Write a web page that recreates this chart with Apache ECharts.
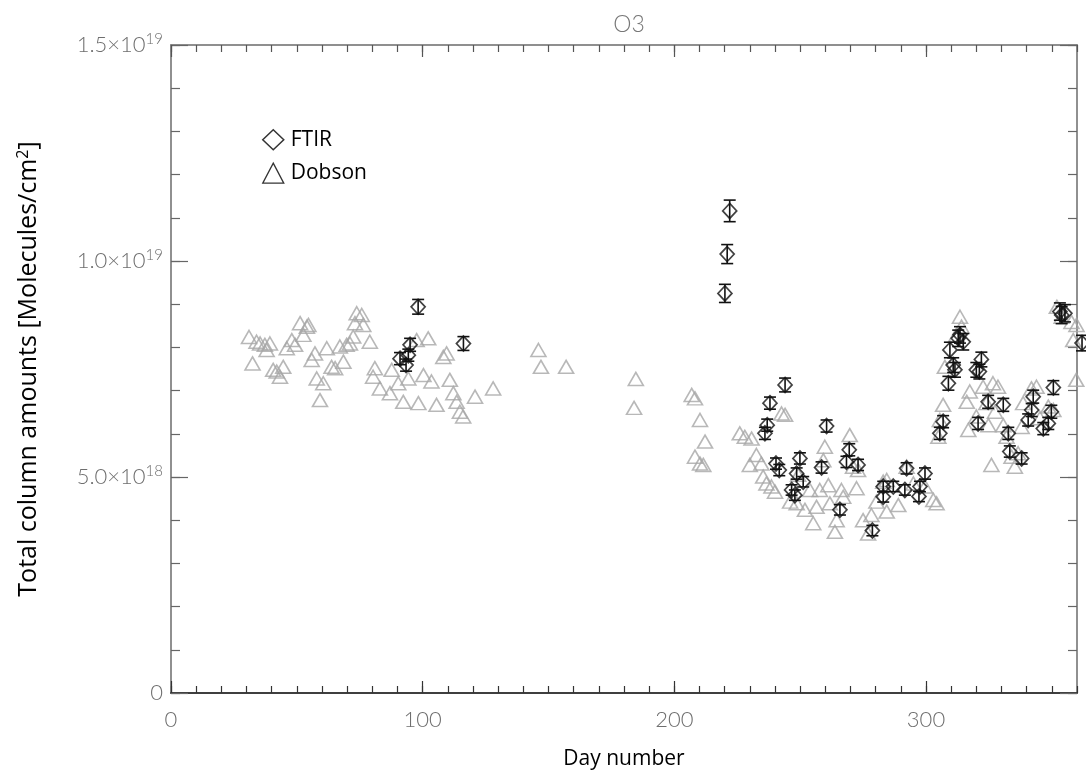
<!DOCTYPE html>
<html>
<head>
<meta charset="utf-8">
<script src="https://cdn.jsdelivr.net/npm/echarts@6/dist/echarts.min.js"></script>
<style>
  html, body { margin: 0; padding: 0; background: #fff; }
  #chart { width: 1086px; height: 778px; }
</style>
</head>
<body>
<div id="chart"></div>
<script>
// Ozone total column, values in units of 1e18 molecules/cm2
const dobsonDays = [31, 32.4, 34, 35.4, 37.3, 39.3, 38, 40.6, 42, 43.3, 44.6, 46, 48, 49.3, 51.3, 54, 52.6, 54.6,
  55.9, 57.2, 57.9, 59.2, 60.5, 61.9, 63.8, 65.2, 67.1, 68.5, 69.8, 71.1, 73.8, 73.1, 72.4,
  75.8, 76.4, 79, 81, 80.3, 83, 87.7, 87, 90.3, 92.3, 94.3, 98.3, 97.6, 102.2, 100.3, 103.5, 105.5,
  108.2, 109.5, 110.8, 112.2, 113.5, 114.8, 116.1, 120.8, 128, 146, 147, 157, 184.7, 184,
  206.9, 208.2, 210.2, 212.2, 208.2, 210.2, 211.5, 226, 228, 230.7, 230, 232.6, 234.6, 235.3, 236.6,
  238.6, 240, 242.6, 244, 246, 248.6, 249.2, 251.9, 253.9, 255.2, 256.5, 257.8, 259.2, 259.8, 261.2,
  261.8, 263.8, 264.5, 266.4, 267.1, 269.7, 271, 272.4, 273, 275, 277, 278.3, 280.3, 283,
  284.4, 292.3, 295, 289, 284.4, 302.9, 304.2, 299.6,
  313.5, 314.1, 312.1, 307.5, 306.8, 305.5, 304.9, 316.8, 316.2, 317.4, 320, 322.7, 326.6, 328.6,
  324, 327.4, 324.8, 330.7, 326, 332, 334, 335.3, 336.6, 338.6, 341.9, 343.9, 338, 345.3, 348.6,
  350.6, 352, 353.9, 357.8, 359.8, 358.5, 359.7];
const dobsonValues = [8.24, 7.63, 8.13, 8.09, 8.06, 8.09, 7.94, 7.48, 7.44, 7.32, 7.55, 7.98, 8.17, 8.06, 8.56, 8.48, 8.29, 8.52,
  7.71, 7.86, 7.28, 6.78, 7.17, 7.98, 7.55, 7.52, 8.02, 7.67, 8.06, 8.09, 8.79, 8.56, 8.25,
  8.75, 8.52, 8.13, 7.52, 7.32, 7.05, 7.48, 6.94, 7.17, 6.74, 7.28, 6.71, 8.17, 8.21, 7.36, 7.21, 6.67,
  7.78, 7.86, 7.25, 6.94, 6.74, 6.51, 6.40, 6.86, 7.05, 7.94, 7.55, 7.55, 7.27, 6.60,
  6.90, 6.82, 6.32, 5.82, 5.47, 5.31, 5.28, 6.01, 5.93, 5.89, 5.28, 5.51, 5.31, 5.01, 4.85,
  4.78, 4.66, 6.47, 6.44, 4.43, 4.39, 5.05, 4.24, 4.70, 3.93, 4.31, 4.70, 5.39, 5.70, 4.81,
  4.39, 3.73, 4.00, 4.70, 4.54, 5.97, 5.24, 4.74, 5.16, 4.00, 3.69, 4.12, 4.43, 4.89,
  4.93, 5.24, 4.85, 4.35, 4.20, 4.47, 4.39, 4.78,
  8.71, 8.48, 8.29, 7.55, 6.67, 6.32, 5.93, 6.09, 6.74, 6.98, 6.40, 7.09, 7.17, 7.09,
  6.71, 6.51, 6.20, 6.20, 5.28, 5.93, 5.47, 5.24, 5.55, 6.71, 7.05, 7.09, 6.16, 6.36, 6.63,
  6.55, 8.94, 8.71, 8.59, 8.52, 8.17, 7.25];

const ftirDays = [98.2, 116.2, 95, 94.3, 91, 93.4, 222, 221, 220.1, 244, 238, 236.9, 236, 240.4, 241.7,
  249.9, 248.6, 251.2, 246.6, 247.9, 260.5, 258.5, 269.5, 268.4, 273, 265.8, 278.7, 283, 283, 287,
  292.3, 291.6, 299.6, 297.6, 297.2, 305.5, 306.8, 308.9, 311.5, 310.8, 309.5, 312.8, 314.8, 313.5,
  320, 321.2, 322, 320.7, 324.7, 330.7, 332.7, 333.3, 338, 340.6, 342, 342.6, 346.6, 348.6, 349.8,
  350.6, 353.2, 353.9, 355.2, 362];
const ftirValues = [8.94, 8.09, 8.06, 7.82, 7.74, 7.59, 11.16, 10.16, 9.25, 7.13, 6.71, 6.20, 6.01, 5.31, 5.16,
  5.43, 5.08, 4.89, 4.70, 4.58, 6.18, 5.22, 5.63, 5.35, 5.28, 4.24, 3.76, 4.78, 4.54, 4.78,
  5.20, 4.70, 5.08, 4.78, 4.55, 6.01, 6.28, 7.17, 7.48, 7.59, 7.94, 8.21, 8.13, 8.29,
  7.48, 7.44, 7.72, 6.24, 6.74, 6.67, 6.01, 5.59, 5.43, 6.32, 6.55, 6.86, 6.12, 6.24, 6.51,
  7.07, 8.83, 8.75, 8.79, 8.10];
const ftirErrors = [0.17, 0.16, 0.15, 0.14, 0.14, 0.14, 0.25, 0.22, 0.21, 0.16, 0.14, 0.14, 0.14, 0.13, 0.13,
  0.13, 0.13, 0.12, 0.12, 0.12, 0.14, 0.13, 0.14, 0.13, 0.13, 0.12, 0.12, 0.12, 0.12, 0.12,
  0.13, 0.12, 0.13, 0.12, 0.12, 0.14, 0.14, 0.16, 0.17, 0.17, 0.18, 0.19, 0.19, 0.19,
  0.17, 0.17, 0.17, 0.14, 0.15, 0.15, 0.14, 0.13, 0.13, 0.14, 0.15, 0.15, 0.14, 0.14, 0.15,
  0.16, 0.20, 0.20, 0.20, 0.18];

const xMajorTicks = [0, 100, 200, 300];
const xTickLabels = ['0', '100', '200', '300'];
const yMajorTicks = [0, 5, 10, 15];
const yTickLabels = ['0', '5.0×10{sup|18}', '1.0×10{sup|19}', '1.5×10{sup|19}'];

const xMinorTicks = [];
for (let v = 0; v <= 360; v += 10) xMinorTicks.push(v);
const yMinorTicks = [];
for (let v = 0; v <= 15; v += 1) yMinorTicks.push(v);

const tickFont = 'Lato, "DejaVu Sans", sans-serif';
const textFont = '"Open Sans", "Noto Sans", sans-serif';
const axisGrey = '#6e6e6e';

function xAxisDef(pos, major) {
  return {
    type: 'value', min: 0, max: 360, position: pos,
    axisLine: { show: true, onZero: false, lineStyle: { color: pos === 'bottom' ? '#333' : '#888', width: 1.5 } },
    axisTick: { show: true, inside: true, length: major ? 12 : 7, customValues: major ? xMajorTicks : xMinorTicks,
      lineStyle: { color: pos === 'bottom' ? '#333' : '#555', width: 1.2 } },
    axisLabel: major && pos === 'bottom' ? {
      show: true, customValues: xMajorTicks, margin: 16, color: axisGrey, fontSize: 22, fontFamily: tickFont, fontWeight: 300,
      formatter: v => xTickLabels[xMajorTicks.indexOf(v)]
    } : { show: false },
    splitLine: { show: false },
    name: major && pos === 'bottom' ? 'Day number' : '',
    nameLocation: 'middle', nameGap: 56,
    nameTextStyle: { color: '#000', fontSize: 21, fontFamily: textFont }
  };
}

function yAxisDef(pos, major) {
  return {
    type: 'value', min: 0, max: 15, position: pos,
    axisLine: { show: true, onZero: false, lineStyle: { color: '#888', width: 1.5 } },
    axisTick: { show: true, inside: true, length: major ? 17 : 9, customValues: major ? yMajorTicks : yMinorTicks,
      lineStyle: { color: '#666', width: 1.2 } },
    axisLabel: major && pos === 'left' ? {
      show: true, customValues: yMajorTicks, margin: 8, color: axisGrey, fontSize: 22, fontFamily: tickFont, fontWeight: 300,
      formatter: v => yTickLabels[yMajorTicks.indexOf(v)],
      rich: { sup: { fontSize: 15, color: axisGrey, fontFamily: tickFont, fontWeight: 300, verticalAlign: 'top', padding: [0, 0, 12, 0] } }
    } : { show: false },
    splitLine: { show: false },
    name: major && pos === 'left' ? 'Total column amounts [Molecules/cm{s|2}]' : '',
    nameLocation: 'middle', nameGap: 128, nameRotate: 90,
    nameTextStyle: { color: '#000', fontSize: 25, fontFamily: textFont,
      rich: { s: { fontSize: 16, color: '#000', fontFamily: textFont, padding: [0, 0, 12, 0] } } }
  };
}

const chart = echarts.init(document.getElementById('chart'), null, { renderer: 'canvas' });

chart.setOption({
  backgroundColor: '#fff',
  animation: false,
  title: {
    text: 'O3', left: 624, top: 8, textAlign: 'center',
    textStyle: { color: '#777', fontSize: 23, fontWeight: 300, fontFamily: tickFont }
  },
  legend: {
    orient: 'vertical', left: 257, top: 124, itemGap: 12, itemWidth: 21, itemHeight: 20,
    textStyle: { color: '#000', fontSize: 21, fontFamily: textFont, padding: [0, 0, 0, 2] },
    data: [
      { name: 'FTIR', icon: 'diamond', itemStyle: { color: 'transparent', borderColor: '#000', borderWidth: 1.5 } },
      { name: 'Dobson', icon: 'triangle', itemStyle: { color: 'transparent', borderColor: '#000', borderWidth: 1.3 } }
    ]
  },
  grid: { left: 171, right: 9, top: 45, bottom: 85, containLabel: false },
  xAxis: [xAxisDef('bottom', true), xAxisDef('bottom', false), xAxisDef('top', true), xAxisDef('top', false)],
  yAxis: [yAxisDef('left', true), yAxisDef('left', false), yAxisDef('right', true), yAxisDef('right', false)],
  series: [
    {
      name: 'Dobson', type: 'scatter', xAxisIndex: 0, yAxisIndex: 0,
      symbol: 'triangle', symbolSize: [15, 13],
      itemStyle: { color: 'transparent', borderColor: '#a6a6a6', borderWidth: 1.6 },
      data: dobsonDays.map((d, i) => [d, dobsonValues[i]]), z: 2
    },
    {
      name: 'FTIR error', type: 'custom', xAxisIndex: 0, yAxisIndex: 0, clip: false,
      data: ftirDays.map((d, i) => [d, ftirValues[i], ftirErrors[i]]),
      renderItem: function (params, api) {
        const x = api.value(0), y = api.value(1), e = api.value(2);
        const hi = api.coord([x, y + e]);
        const lo = api.coord([x, y - e]);
        const w = 6;
        const st = { stroke: '#111', lineWidth: 1.6 };
        return {
          type: 'group',
          children: [
            { type: 'line', shape: { x1: hi[0], y1: hi[1], x2: lo[0], y2: lo[1] }, style: st },
            { type: 'line', shape: { x1: hi[0] - w, y1: hi[1], x2: hi[0] + w, y2: hi[1] }, style: st },
            { type: 'line', shape: { x1: lo[0] - w, y1: lo[1], x2: lo[0] + w, y2: lo[1] }, style: st }
          ]
        };
      },
      z: 4
    },
    {
      name: 'FTIR', type: 'scatter', xAxisIndex: 0, yAxisIndex: 0, clip: false,
      symbol: 'diamond', symbolSize: [14, 15],
      itemStyle: { color: 'transparent', borderColor: '#111', borderWidth: 1.7 },
      data: ftirDays.map((d, i) => [d, ftirValues[i]]), z: 3
    }
  ]
});
</script>
</body>
</html>
